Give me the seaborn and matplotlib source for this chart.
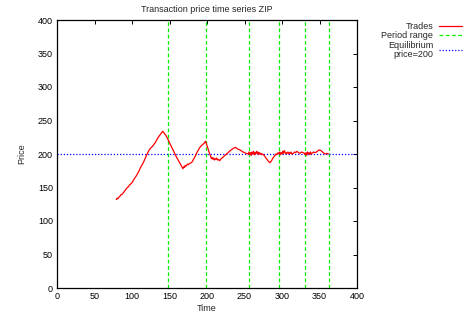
import pandas as pd
import matplotlib
matplotlib.use("Agg")
import matplotlib.pyplot as plt
import seaborn as sns

# Data
trade_time = [79, 80, 81, 82, 84, 85, 87, 89, 91, 93, 95, 97, 99, 101, 103, 105, 107, 109,
              111, 113, 115, 117, 119, 121, 123, 125, 127, 129, 131, 133, 135, 137, 139, 141,
              143, 145, 147, 150, 153, 156, 159, 162, 165, 167, 168, 169, 170, 171, 172, 174,
              175, 177, 179, 180, 182, 184, 186, 188, 190, 192, 194, 196, 198, 199, 201, 203,
              205, 206, 207, 208, 209, 210, 211, 212, 213, 214, 215, 217, 218, 220, 224, 228,
              232, 236, 238, 240, 244, 248, 252, 255, 256, 257, 258, 259, 260, 261, 262, 263,
              264, 265, 266, 267, 268, 269, 270, 271, 272, 273, 274, 276, 278, 280, 282, 284,
              286, 288, 290, 292, 293, 294, 295, 296, 297, 298, 299, 300, 301, 302, 303, 304,
              305, 306, 307, 308, 309, 310, 311, 312, 313, 315, 317, 318, 320, 322, 324, 326,
              328, 330, 331, 332, 333, 334, 335, 336, 337, 338, 339, 340, 342, 344, 346, 348,
              350, 352, 354, 356, 358, 360, 362]
trade_price = [132, 134, 133, 135, 137, 139, 140, 143, 146, 149, 151, 154, 156, 159, 163, 166,
               170, 174, 179, 183, 187, 192, 197, 202, 206, 209, 211, 214, 217, 221, 225, 228,
               231, 234, 231, 228, 224, 217, 210, 203, 196, 190, 184, 180, 178, 181, 180, 183,
               182, 185, 184, 186, 187, 188, 192, 196, 201, 205, 209, 212, 214, 216, 219, 216,
               209, 202, 196, 193, 195, 192, 194, 191, 193, 192, 194, 191, 192, 190, 192, 194,
               198, 202, 206, 209, 210, 208, 206, 203, 201, 200, 203, 199, 202, 198, 203, 200,
               204, 199, 202, 200, 204, 201, 203, 199, 202, 200, 201, 199, 200, 198, 195, 192,
               189, 187, 190, 194, 197, 200, 199, 201, 202, 200, 203, 199, 202, 200, 204, 201,
               205, 203, 200, 202, 201, 203, 200, 202, 201, 203, 200, 201, 203, 202, 204, 202,
               201, 203, 202, 201, 199, 202, 198, 203, 200, 202, 199, 203, 200, 201, 203, 202,
               203, 205, 206, 205, 203, 201, 200, 201, 200]
period_ends = [148, 199, 256, 296, 331, 363]
equilibrium = 200

x_ticks = [0, 50, 100, 150, 200, 250, 300, 350, 400]
y_ticks = [0, 50, 100, 150, 200, 250, 300, 350, 400]

df = pd.DataFrame({"Time": trade_time, "Price": trade_price})

sns.set_style("white")
plt.rcParams["font.family"] = ["Liberation Sans", "DejaVu Sans"]
plt.rcParams["font.size"] = 6.5

fig = plt.figure(figsize=(4.65, 3.2), dpi=100)
ax = fig.add_axes([57 / 465, 32 / 320, 300 / 465, 268 / 320])

sns.lineplot(data=df, x="Time", y="Price", color="#ff0000", linewidth=0.9,
             estimator=None, sort=False, ax=ax, label="Trades", zorder=3)
for i, t in enumerate(period_ends):
    ax.axvline(t, color="#00ee00", linewidth=0.9, linestyle=(0, (3, 2)),
               label="Period range" if i == 0 else None, zorder=2)
ax.axhline(equilibrium, color="#0000ff", linewidth=0.9, linestyle=(0, (1, 1.5)),
           label="Equilibrium\nprice=200", zorder=2)

ax.set_xlim(0, 400)
ax.set_ylim(0, 400)
ax.set_xticks(x_ticks)
ax.set_yticks(y_ticks)
ax.tick_params(direction="in", length=3, width=0.7, top=True, right=True,
               labelsize=6.5, colors="black", pad=3)
for s in ax.spines.values():
    s.set_color("black")
    s.set_linewidth(0.9)

ax.set_title("Transaction price time series ZIP", fontsize=6.5, pad=6)
ax.set_xlabel("Time", fontsize=6.5, labelpad=2)
ax.set_ylabel("Price", fontsize=6.5, labelpad=8)

# gnuplot-style key: text right-aligned, sample to its right
leg = ax.legend(loc="upper right", bbox_to_anchor=(462 / 465, 298 / 320),
                bbox_transform=fig.transFigure, frameon=False, markerfirst=False,
                fontsize=6.5, handlelength=2.6, handletextpad=0.6,
                labelspacing=0.05, borderpad=0, borderaxespad=0)
for t in leg.get_texts():
    t.set_multialignment("right")
    t.set_linespacing(0.95)

plt.savefig("out.png", dpi=100)
